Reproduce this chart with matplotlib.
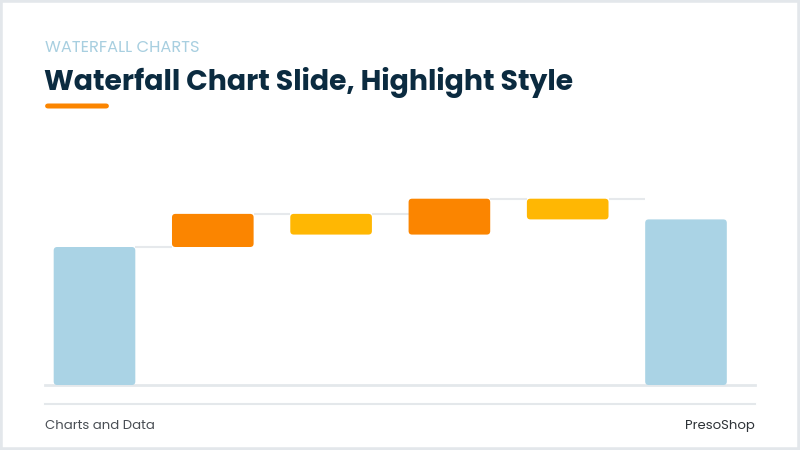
import matplotlib
matplotlib.use("Agg")
import matplotlib.pyplot as plt
from matplotlib.patches import FancyBboxPatch, Rectangle
import numpy as np

# ---- data ----
categories = ["Start", "Increase 1", "Decrease 1", "Increase 2", "Decrease 2", "End"]
changes = [100, 24, -15, 26, -15, None]   # None -> total bar
kinds = ["total", "up", "down", "up", "down", "total"]

subtitle = "WATERFALL CHARTS"
title = "Waterfall Chart Slide, Highlight Style"
footer_left = "Charts and Data"
footer_right = "PresoShop"

# ---- colours ----
C_TOTAL = "#aad3e5"
C_UP = "#fb8500"
C_DOWN = "#ffb703"
C_TITLE = "#0b2b40"
C_SUB = "#a8cfe0"
C_LINE = "#e4e8eb"
C_FOOT = "#4a4f55"

W, H = 800, 450
fig = plt.figure(figsize=(8, 4.5), dpi=100)
fig.patch.set_facecolor("white")

# border
fig.add_artist(Rectangle((0, 0), 1, 1, transform=fig.transFigure, fill=False,
                         edgecolor="#e3e7eb", linewidth=4))

def fx(px):
    return px / W

def fy(py):
    return 1 - py / H

FONT = ["Poppins", "Open Sans", "DejaVu Sans"]

fig.text(fx(45), fy(52), subtitle, color=C_SUB, fontsize=11.7, family=FONT,
         ha="left", va="baseline")
fig.text(fx(44), fy(90), title, color=C_TITLE, fontsize=20.4, family=FONT,
         fontweight="bold", ha="left", va="baseline")
# orange underline
fig.add_artist(FancyBboxPatch((fx(45), fy(108.5)), fx(64), 5 / H,
                              boxstyle="round,pad=0,rounding_size=0.004",
                              transform=fig.transFigure, facecolor=C_UP,
                              edgecolor="none", mutation_aspect=W / H))

# footer
fig.text(fx(45), fy(429), footer_left, color=C_FOOT, fontsize=9.5, family=FONT,
         ha="left", va="baseline")
fig.text(fx(755), fy(429), footer_right, color="#2e3338", fontsize=9.5, family=FONT,
         ha="right", va="baseline")
fig.add_artist(plt.Line2D([fx(45), fx(755)], [fy(404), fy(404)],
                          transform=fig.transFigure, color=C_LINE, linewidth=1.5))

# ---- chart axes ----
ax_left, ax_right, ax_top, ax_bottom = 45, 755, 140, 385
ax = fig.add_axes([fx(ax_left), fy(ax_bottom), fx(ax_right - ax_left),
                   (ax_bottom - ax_top) / H])
ax.set_axis_off()

n = len(categories)
x = np.arange(n)
px_per_unit = 1.38
ymax = (ax_bottom - ax_top) / px_per_unit
spacing = 118.3
xl = -(94.5 - ax_left) / spacing
xr = (n - 1) + (ax_right - 686) / spacing
ax.set_xlim(xl, xr)
ax.set_ylim(0, ymax)

bar_w = 0.69

bottoms, heights, colors, levels = [], [], [], []
running = 0
for c, k in zip(changes, kinds):
    if k == "total":
        if c is not None:
            running = c
        bottoms.append(0)
        heights.append(running)
        colors.append(C_TOTAL)
    else:
        new = running + c
        bottoms.append(min(running, new))
        heights.append(abs(c))
        colors.append(C_UP if c > 0 else C_DOWN)
        running = new
    levels.append(running)

# connectors at running maximum
runmax = np.maximum.accumulate(np.array(levels, dtype=float))
for i in range(n - 1):
    ax.plot([x[i] + bar_w / 2, x[i + 1] - bar_w / 2], [runmax[i], runmax[i]],
            color="#e6e9ec", linewidth=1.5, zorder=1, solid_capstyle="butt")

# baseline
ax.plot([xl, xr], [0, 0], color=C_LINE, linewidth=2, zorder=1, clip_on=False)

# rounded bars
x_units_per_px = (xr - xl) / (ax_right - ax_left)
y_units_per_px = 1 / px_per_unit
aspect = y_units_per_px / x_units_per_px
r = 3.5 * x_units_per_px
for i in range(n):
    p = FancyBboxPatch((x[i] - bar_w / 2, bottoms[i]), bar_w, heights[i],
                       boxstyle=f"round,pad=0,rounding_size={r}",
                       mutation_aspect=aspect, facecolor=colors[i],
                       edgecolor="none", zorder=2)
    ax.add_patch(p)

fig.savefig("out.png", dpi=100, facecolor="white")
